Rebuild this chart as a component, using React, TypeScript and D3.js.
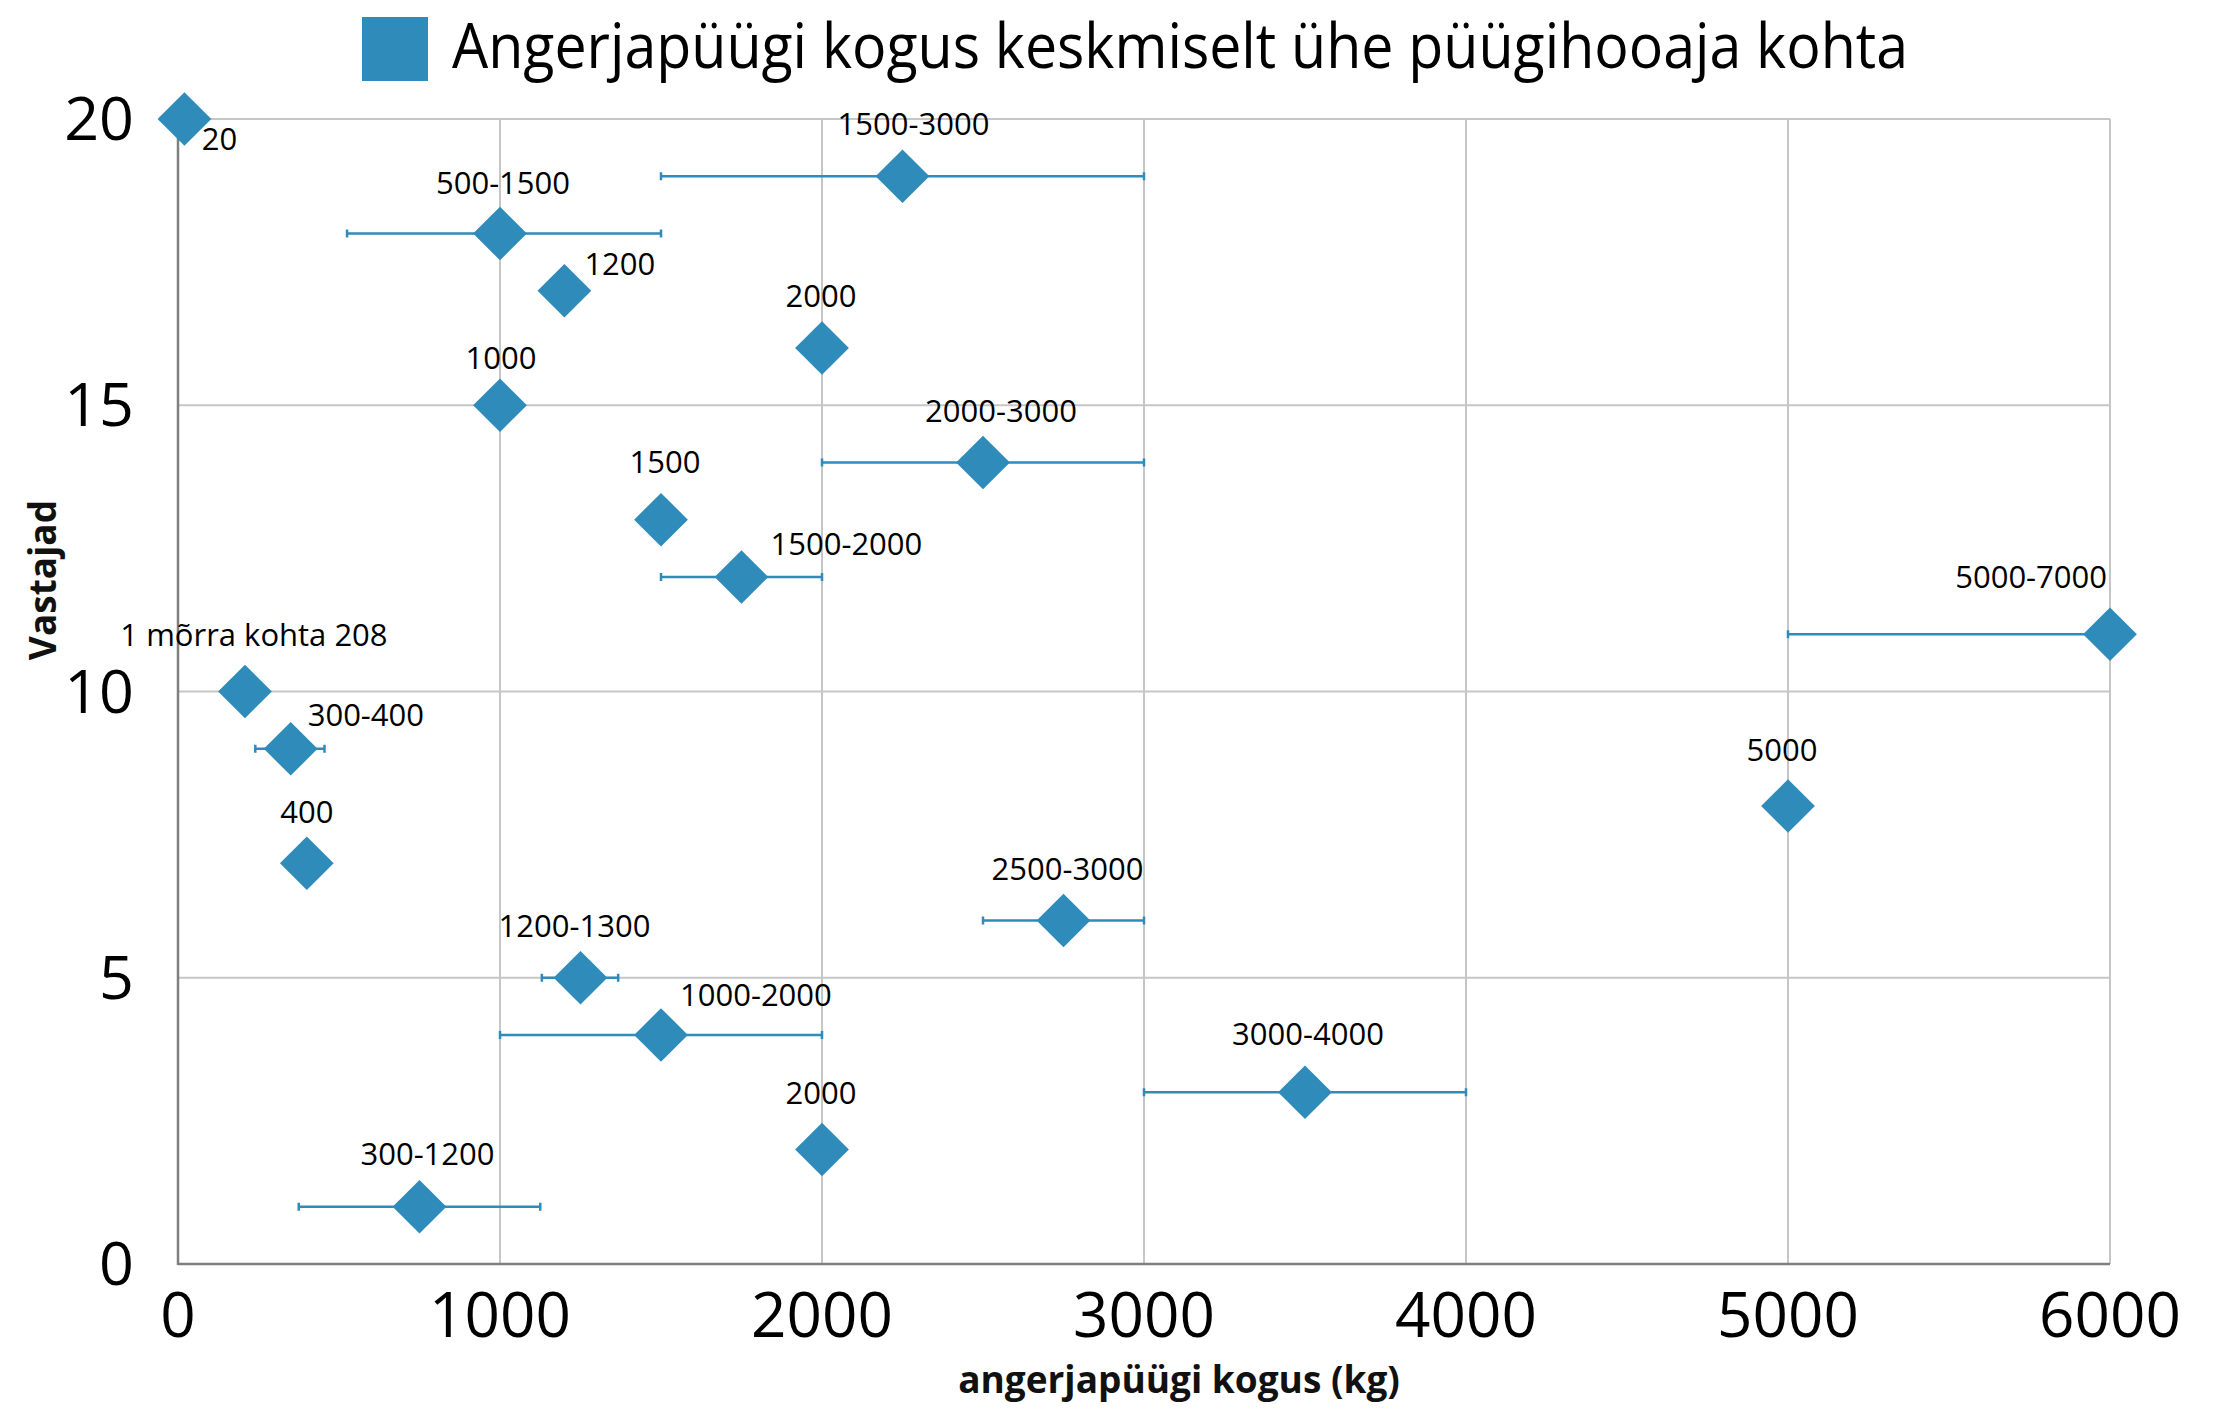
import React from "react";
import * as d3 from "d3";

// ---- data ----
const respondents = [20, 19, 18, 17, 16, 15, 14, 13, 12, 11, 10, 9, 8, 7, 6, 5, 4, 3, 2, 1];
const amounts = [20, 2250, 1000, 1200, 2000, 1000, 2500, 1500, 1750, 6000, 208, 350, 5000, 400, 2750, 1250, 1500, 3500, 2000, 750];
const errLow = [null, 1500, 525, null, null, null, 2000, null, 1500, 5000, null, 240, null, null, 2500, 1130, 1000, 3000, null, 375];
const errHigh = [null, 3000, 1500, null, null, null, 3000, null, 2000, 7000, null, 455, null, null, 3000, 1367, 2000, 4000, null, 1125];
const pointLabels = [
  "20", "1500-3000", "500-1500", "1200", "2000", "1000", "2000-3000", "1500", "1500-2000", "5000-7000",
  "1 mõrra kohta 208", "300-400", "5000", "400", "2500-3000", "1200-1300", "1000-2000", "3000-4000", "2000", "300-1200",
];
const xTicks = [0, 1000, 2000, 3000, 4000, 5000, 6000];
const yTicks = [0, 5, 10, 15, 20];
const legendLabel = "Angerjapüügi kogus keskmiselt ühe püügihooaja kohta";
const xTitle = "angerjapüügi kogus (kg)";
const yTitle = "Vastajad";

// label placement: [anchor, dx, dy] (layout only)
const labelPlacement: [string, number, number][] = [
  ["middle", 35, 31], ["middle", 11, -41], ["middle", 3, -40], ["start", 20, -16], ["middle", -1, -41],
  ["middle", 1, -36], ["middle", 18, -41], ["middle", 4, -47], ["start", 29, -22], ["end", -3, -46],
  ["middle", 9, -46], ["start", 17, -23], ["middle", -6, -45], ["middle", 0, -40], ["middle", 4, -41],
  ["middle", -6, -41], ["start", 19, -29], ["middle", 3, -47], ["middle", -1, -46], ["middle", 8, -42],
];

const W = 2216, H = 1409;
const M = { left: 178, right: 2110, top: 119, bottom: 1264 };
const BLUE = "#2E8BBA";
const FONT = "'Open Sans', 'Noto Sans', sans-serif";

export default function App() {
  const x = d3.scaleLinear().domain([0, 6000]).range([M.left, M.right]);
  const y = d3.scaleLinear().domain([0, 20]).range([M.bottom, M.top]);
  const diamond = d3.symbol().type(d3.symbolSquare).size(38 * 38)();

  return (
    <svg width={W} height={H} viewBox={`0 0 ${W} ${H}`}
      style={{ position: "fixed", left: 0, top: 0, background: "#fff" }} fontFamily={FONT}>
      <rect x={0} y={0} width={W} height={H} fill="#fff" />
      {/* legend */}
      <rect x={362} y={17} width={66} height={64} fill={BLUE} />
      <text x={452} y={68} fontSize={62} fill="#000" textLength={1456} lengthAdjust="spacingAndGlyphs">{legendLabel}</text>

      {/* grid */}
      {yTicks.filter(t => t > 0).map(t => (
        <line key={"gy" + t} x1={M.left} x2={M.right} y1={y(t)} y2={y(t)} stroke="#c6c6c6" strokeWidth={2} />
      ))}
      {xTicks.filter(t => t > 0).map(t => (
        <line key={"gx" + t} x1={x(t)} x2={x(t)} y1={M.top} y2={M.bottom} stroke="#c6c6c6" strokeWidth={2} />
      ))}
      {/* axes */}
      <line x1={M.left} x2={M.left} y1={M.top} y2={M.bottom + 1} stroke="#7f7f7f" strokeWidth={2.5} />
      <line x1={M.left} x2={M.right} y1={M.bottom} y2={M.bottom} stroke="#7f7f7f" strokeWidth={2.5} />

      {/* tick labels */}
      {yTicks.map(t => (
        <text key={"yl" + t} x={134} y={y(t) + 21} fontSize={61} textAnchor="end" fill="#000">{t}</text>
      ))}
      {xTicks.map(t => (
        <text key={"xl" + t} x={x(t)} y={1337} fontSize={62} textAnchor="middle" fill="#000">{t}</text>
      ))}

      {/* axis titles */}
      <text x={1179} y={1393} fontSize={37} fontWeight="bold" textAnchor="middle" fill="#111">{xTitle}</text>
      <text transform={`translate(56,580) rotate(-90)`} fontSize={37} fontWeight="bold" textAnchor="middle" fill="#111">{yTitle}</text>

      {/* error bars */}
      {respondents.map((r, i) => {
        const lo = errLow[i], hi = errHigh[i];
        if (lo == null || hi == null) return null;
        const x1 = x(Math.max(0, lo)), x2 = x(Math.min(6000, hi));
        const yy = y(r);
        return (
          <g key={"eb" + i} stroke={BLUE} strokeWidth={2.5}>
            <line x1={x1} x2={x2} y1={yy} y2={yy} />
            {hi <= 6000 && <line x1={x2} x2={x2} y1={yy - 4} y2={yy + 4} />}
            <line x1={x1} x2={x1} y1={yy - 4} y2={yy + 4} />
          </g>
        );
      })}

      {/* diamonds */}
      {respondents.map((r, i) => (
        <path key={"pt" + i} d={diamond!} fill={BLUE}
          transform={`translate(${x(amounts[i])},${y(r)}) rotate(45)`} />
      ))}

      {/* data labels */}
      {respondents.map((r, i) => {
        const [anchor, dx, dy] = labelPlacement[i];
        return (
          <text key={"lb" + i} x={x(amounts[i]) + dx} y={y(r) + dy} fontSize={31}
            textAnchor={anchor as any} fill="#000">{pointLabels[i]}</text>
        );
      })}
    </svg>
  );
}
